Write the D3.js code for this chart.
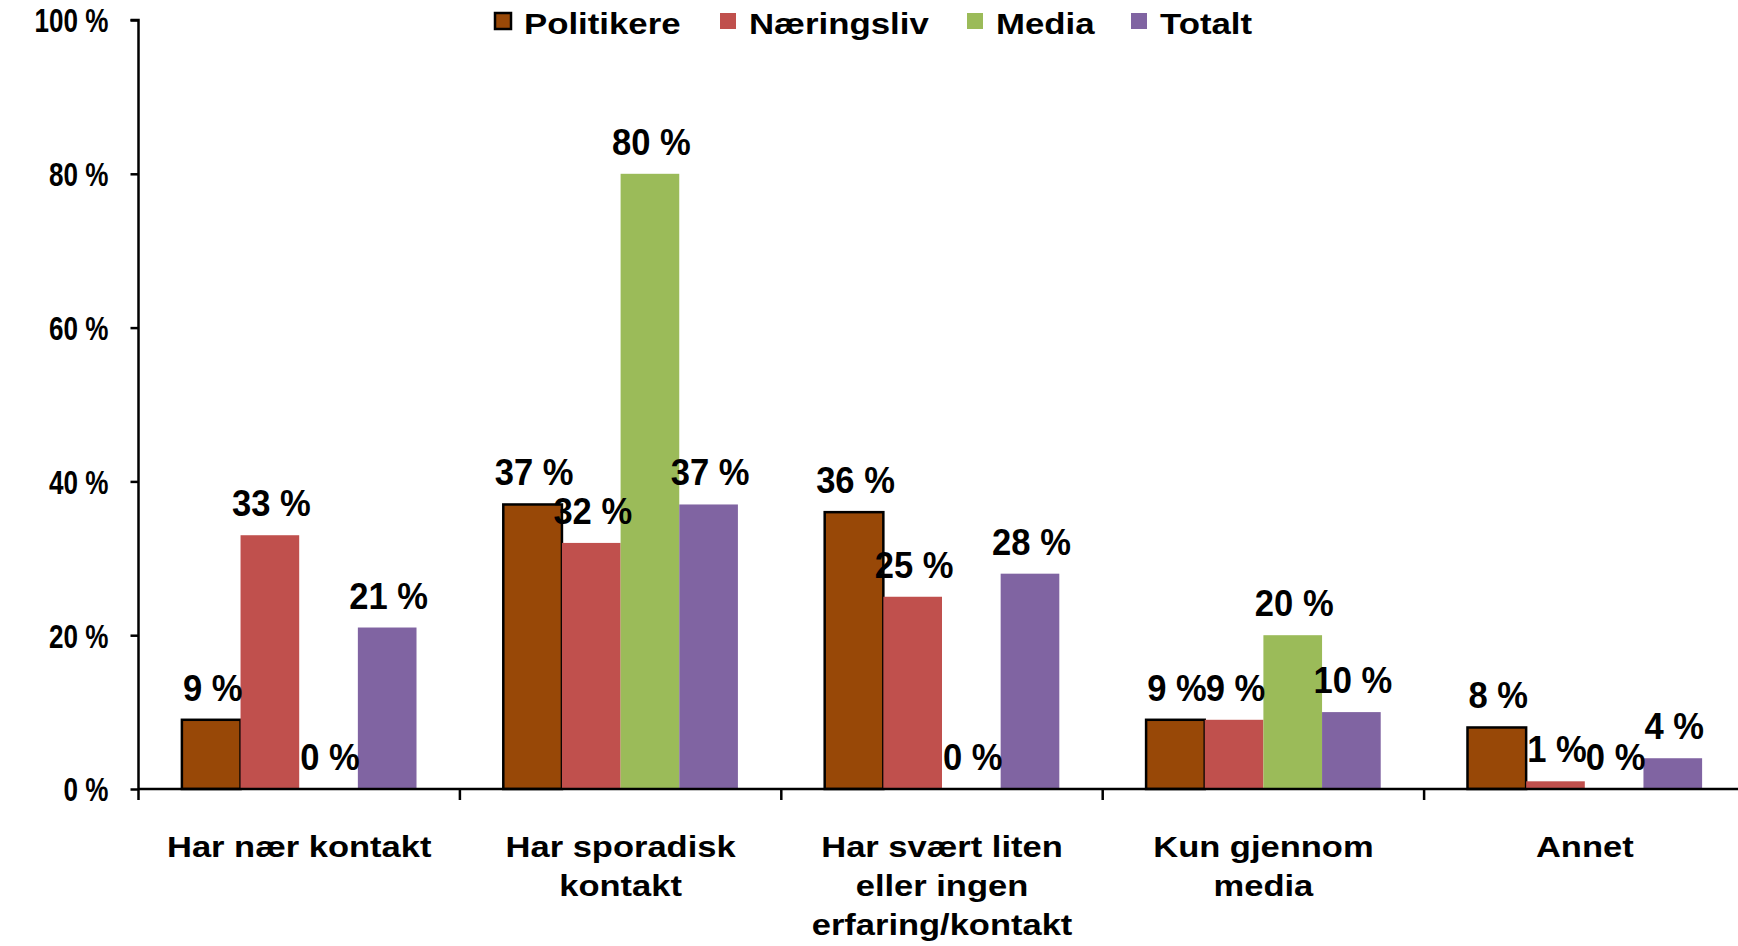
<!DOCTYPE html>
<html>
<head>
<meta charset="utf-8">
<script src="https://cdn.jsdelivr.net/npm/d3@7"></script>
<style>
  html, body { margin: 0; padding: 0; background: #fff; }
  svg { display: block; }
  text { font-family: "Liberation Sans", Arial, sans-serif; font-weight: bold; fill: #000; }
</style>
</head>
<body>
<svg id="chart" width="1738" height="946"></svg>
<script>
// ---- data ----
const categories = ["Har nær kontakt", "Har sporadisk kontakt", "Har svært liten eller ingen erfaring/kontakt", "Kun gjennom media", "Annet"];
const categoryLines = [["Har nær kontakt"], ["Har sporadisk", "kontakt"], ["Har svært liten", "eller ingen", "erfaring/kontakt"], ["Kun gjennom", "media"], ["Annet"]];
const seriesNames = ["Politikere", "Næringsliv", "Media", "Totalt"];
const politikere = [9, 37, 36, 9, 8];
const naeringsliv = [33, 32, 25, 9, 1];
const media = [0, 80, 0, 20, 0];
const totalt = [21, 37, 28, 10, 4];
const yTicks = [0, 20, 40, 60, 80, 100];
const colors = ["#984807", "#C0504D", "#9BBB59", "#8064A2"];

const seriesValues = [politikere, naeringsliv, media, totalt];

// ---- layout ----
const svg = d3.select("#chart");
const mLeft = 138.5, mTop = 20, plotH = 769, plotW = 1607;
const baseY = mTop + plotH;

const x0 = d3.scaleBand().domain(categories).range([mLeft, mLeft + plotW]).paddingInner(0.27).paddingOuter(0.135);
const x1 = d3.scaleBand().domain(seriesNames).range([0, x0.bandwidth()]).padding(0);
const y = d3.scaleLinear().domain([0, 100]).range([baseY, mTop]);

// bars
const groups = svg.append("g").selectAll("g").data(categories).join("g")
  .attr("transform", d => `translate(${x0(d)},0)`);

groups.each(function(cat, ci) {
  const g = d3.select(this);
  seriesNames.forEach((s, si) => {
    const v = seriesValues[si][ci];
    const bx = x1(s), bw = x1.bandwidth();
    if (v > 0) {
      g.append("rect")
        .attr("x", bx).attr("y", y(v))
        .attr("width", bw).attr("height", y(0) - y(v))
        .attr("fill", colors[si])
        .attr("stroke", si === 0 ? "#000" : "none")
        .attr("stroke-width", si === 0 ? 2.5 : 0);
    }
  });
});

// y axis
const yAxis = d3.axisLeft(y).tickValues(yTicks).tickSize(8).tickPadding(14).tickFormat(d => d + " %");
const yg = svg.append("g").attr("transform", `translate(${mLeft},0)`).call(yAxis);
yg.select(".domain").attr("stroke", "#000").attr("stroke-width", 2.5).attr("d", `M-8,${mTop}H0V${baseY}`);
yg.selectAll(".tick line").attr("stroke", "#000").attr("stroke-width", 2.5);
yg.selectAll(".tick text").attr("x", null).attr("dy", "0.36em")
  .attr("transform", "translate(-30,0) scale(0.79,1)")
  .style("font-size", "33px")
  .style("font-family", '"Liberation Sans", Arial, sans-serif').style("font-weight", "bold").attr("fill", "#000");

// x axis line and boundary ticks
svg.append("line").attr("x1", mLeft).attr("x2", mLeft + plotW).attr("y1", baseY).attr("y2", baseY)
  .attr("stroke", "#000").attr("stroke-width", 2.5);
const bounds = categories.map((c, i) => mLeft + i * x0.step()).concat([mLeft + plotW]);
svg.append("g").selectAll("line").data(bounds).join("line")
  .attr("x1", d => d).attr("x2", d => d).attr("y1", baseY).attr("y2", baseY + 11)
  .attr("stroke", "#000").attr("stroke-width", 2.5);

// category labels
categories.forEach((c, ci) => {
  const cx = x0(c) + x0.bandwidth() / 2;
  const t = svg.append("text").attr("text-anchor", "middle").style("font-size", "30px")
    .attr("transform", `translate(${cx},857) scale(1.15,1)`);
  categoryLines[ci].forEach((ln, li) => {
    t.append("tspan").attr("x", 0).attr("y", li * 39).text(ln);
  });
});

// data labels
groups.each(function(cat, ci) {
  const g = d3.select(this);
  seriesNames.forEach((s, si) => {
    const v = seriesValues[si][ci];
    g.append("text").attr("text-anchor", "middle")
      .attr("transform", `translate(${x1(s) + x1.bandwidth() / 2 + 1.5},${y(v) - 19}) scale(0.96,1)`)
      .style("font-size", "36px")
      .text(v + " %");
  });
});

// legend
const legendX = [495, 720, 967, 1131];
const lg = svg.append("g");
seriesNames.forEach((s, i) => {
  lg.append("rect").attr("x", legendX[i]).attr("y", 13).attr("width", 16).attr("height", 16)
    .attr("fill", colors[i]).attr("stroke", i === 0 ? "#000" : "none").attr("stroke-width", 2.5);
  lg.append("text").attr("transform", `translate(${legendX[i] + 29},34) scale(1.16,1)`)
    .style("font-size", "30px").text(s);
});
</script>
</body>
</html>
